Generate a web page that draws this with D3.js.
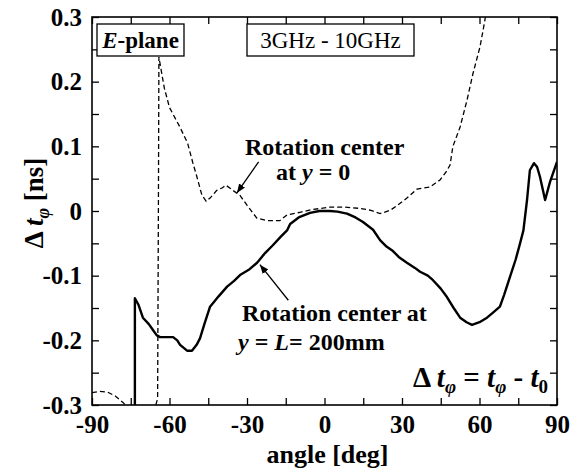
<!DOCTYPE html>
<html>
<head>
<meta charset="utf-8">
<script src="https://cdn.jsdelivr.net/npm/d3@7"></script>
</head>
<body style="margin:0">
<svg id="chart" width="581" height="475" font-family="Liberation Serif"></svg>
<script>
// Data: [angle deg, delta t ns]
const rotCenterZero = [
  [-90, -0.281], [-87, -0.279], [-84, -0.280], [-81, -0.286], [-78, -0.296], [-76, -0.305],
  [-71, -0.33], [-66, -0.31], [-64.6, -0.29], [-64.3, 0.0], [-64.1, 0.238],
  [-62, 0.19], [-60, 0.16], [-56, 0.13], [-53, 0.105], [-51, 0.075], [-49.4, 0.053],
  [-47.5, 0.025], [-45.8, 0.015], [-44.3, 0.02], [-41.7, 0.032], [-39.5, 0.036], [-38.2, 0.04],
  [-35.5, 0.032], [-32.7, 0.024], [-30, 0.009], [-26.2, -0.011], [-22.3, -0.015], [-17.3, -0.015],
  [-14.5, -0.006], [-9.5, -0.002], [-5, 0.002], [2, 0.006], [8, 0.006], [13.7, 0.004],
  [18, 0.001], [21.5, -0.004], [25.4, 0.001], [28, 0.008], [31.9, 0.02], [35.8, 0.034],
  [40.8, 0.037], [44.7, 0.048], [47, 0.06], [48.6, 0.071], [49.7, 0.1], [52.5, 0.13],
  [55.2, 0.172], [57.5, 0.213], [60.2, 0.254], [62.1, 0.295], [62.8, 0.32]
];

const rotCenterL = [
  [-73.4, -0.33], [-73.4, -0.135], [-72, -0.145], [-70.3, -0.165], [-68, -0.175], [-66.4, -0.184],
  [-65, -0.192], [-63.7, -0.195], [-61, -0.195], [-58.6, -0.195], [-57, -0.2], [-55.9, -0.207],
  [-53.2, -0.216], [-51.3, -0.216], [-49.5, -0.207], [-48.2, -0.197], [-46.5, -0.175], [-44.3, -0.148],
  [-41, -0.132], [-37.7, -0.117], [-35, -0.108], [-32.7, -0.099], [-29, -0.09], [-26.1, -0.08],
  [-23, -0.065], [-20, -0.053], [-17, -0.04], [-14.5, -0.03], [-13.3, -0.02], [-10, -0.01],
  [-5.6, -0.003], [-2, 0], [2.1, 0], [5, -0.001], [8.7, -0.004], [12, -0.01], [14.9, -0.017],
  [18.8, -0.029], [21.5, -0.045], [24, -0.055], [26.5, -0.062], [29, -0.072], [31.9, -0.08],
  [35, -0.088], [37, -0.094], [40, -0.1], [42, -0.107], [45, -0.12], [47.4, -0.133], [50, -0.15],
  [52.5, -0.165], [55, -0.172], [57.1, -0.176], [60, -0.172], [62.9, -0.165], [65, -0.158],
  [67.9, -0.148], [69.5, -0.13], [71.8, -0.102], [74, -0.075], [75.7, -0.05], [77, -0.03],
  [78.4, 0.017], [79.5, 0.063], [81.1, 0.074], [82.3, 0.068], [83.4, 0.053], [85.4, 0.017],
  [87.3, 0.045], [90, 0.076]
];

const xTicks = [-90, -60, -30, 0, 30, 60, 90];
const xMinor = [-75, -45, -15, 15, 45, 75];
const yTicks = [-0.3, -0.2, -0.1, 0, 0.1, 0.2, 0.3];
const yMinor = [-0.25, -0.15, -0.05, 0.05, 0.15, 0.25];

const margin = { top: 17, right: 24, bottom: 70, left: 92 };
const width = 581;
const height = 475;

const svg = d3.select("#chart");

const x = d3.scaleLinear().domain([-90, 90]).range([margin.left, width - margin.right]);
const y = d3.scaleLinear().domain([-0.3, 0.3]).range([height - margin.bottom, margin.top]);

svg.append("defs").append("clipPath").attr("id", "plotClip")
  .append("rect")
  .attr("x", x(-90)).attr("y", y(0.3))
  .attr("width", x(90) - x(-90)).attr("height", y(-0.3) - y(0.3));

// Axes, ticks pointing inward; plain hyphen for negatives like the original
const xFmt = (d) => String(d);
const yFmt = (d) => (d === 0 ? "0" : d.toFixed(1));
const tick = 7;

function bare(g) {
  g.select(".domain").remove();
  g.attr("font-family", null).attr("font-size", null);
}

svg.append("g").attr("transform", `translate(0,${y(-0.3)})`)
  .call(d3.axisBottom(x).tickValues(xTicks).tickSizeInner(-tick).tickSizeOuter(0).tickPadding(tick + 3).tickFormat(xFmt))
  .call(bare);
svg.append("g").attr("transform", `translate(0,${y(-0.3)})`)
  .call(d3.axisBottom(x).tickValues(xMinor).tickSizeInner(-tick).tickSizeOuter(0).tickFormat(""))
  .call(bare);
svg.append("g").attr("transform", `translate(0,${y(0.3)})`)
  .call(d3.axisTop(x).tickValues(xTicks.concat(xMinor)).tickSizeInner(-tick).tickSizeOuter(0).tickFormat(""))
  .call(bare);

svg.append("g").attr("transform", `translate(${x(-90)},0)`)
  .call(d3.axisLeft(y).tickValues(yTicks).tickSizeInner(-tick).tickSizeOuter(0).tickPadding(tick + 3).tickFormat(yFmt))
  .call(bare);
svg.append("g").attr("transform", `translate(${x(-90)},0)`)
  .call(d3.axisLeft(y).tickValues(yMinor).tickSizeInner(-tick).tickSizeOuter(0).tickFormat(""))
  .call(bare);
svg.append("g").attr("transform", `translate(${x(90)},0)`)
  .call(d3.axisRight(y).tickValues(yTicks.concat(yMinor)).tickSizeInner(-tick).tickSizeOuter(0).tickFormat(""))
  .call(bare);

svg.selectAll(".tick line").attr("stroke", "#000").attr("stroke-width", 1.3);
svg.selectAll(".tick text").attr("fill", "#000").attr("font-size", 25).attr("font-weight", "bold");

// Frame
svg.append("rect")
  .attr("x", x(-90)).attr("y", y(0.3))
  .attr("width", x(90) - x(-90)).attr("height", y(-0.3) - y(0.3))
  .attr("fill", "none").attr("stroke", "#000").attr("stroke-width", 1.6);

// Curves
const line = d3.line().x((d) => x(d[0])).y((d) => y(d[1]));
const plot = svg.append("g").attr("clip-path", "url(#plotClip)");

plot.append("path").datum(rotCenterZero)
  .attr("d", line).attr("fill", "none").attr("stroke", "#000")
  .attr("stroke-width", 1.3).attr("stroke-dasharray", "5,3");

plot.append("path").datum(rotCenterL)
  .attr("d", line).attr("fill", "none").attr("stroke", "#000")
  .attr("stroke-width", 2.4).attr("stroke-linejoin", "round");

// Arrows
svg.append("defs").append("marker")
  .attr("id", "arrowHead").attr("viewBox", "0 0 10 10")
  .attr("refX", 10).attr("refY", 5)
  .attr("markerWidth", 9).attr("markerHeight", 9)
  .attr("markerUnits", "userSpaceOnUse")
  .attr("orient", "auto")
  .append("path").attr("d", "M0,1 L10,5 L0,9 Z").attr("fill", "#000");

function arrow(from, to) {
  svg.append("line")
    .attr("x1", x(from[0])).attr("y1", y(from[1]))
    .attr("x2", x(to[0])).attr("y2", y(to[1]))
    .attr("stroke", "#000").attr("stroke-width", 1.3)
    .attr("marker-end", "url(#arrowHead)");
}
arrow([-25.5, 0.076], [-33.9, 0.028]);
arrow([-14, -0.138], [-25, -0.083]);

// Boxed labels
function boxLabel(x0, y0, w, h) {
  svg.append("rect").attr("x", x0).attr("y", y0).attr("width", w).attr("height", h)
    .attr("fill", "#fff").attr("stroke", "#000").attr("stroke-width", 1.3);
}
boxLabel(97, 24, 87, 32);
const ep = svg.append("text").attr("x", 140.5).attr("y", 48).attr("text-anchor", "middle")
  .attr("font-size", 23).attr("font-weight", "bold");
ep.append("tspan").attr("font-style", "italic").text("E");
ep.append("tspan").text("-plane");

boxLabel(247, 24, 167, 32);
svg.append("text").attr("x", 330.5).attr("y", 48).attr("text-anchor", "middle")
  .attr("font-size", 23).text("3GHz - 10GHz");

// Curve annotations
const ann = svg.append("g").attr("font-size", 24).attr("font-weight", "bold");
ann.append("text").attr("x", 245).attr("y", 155).text("Rotation center");
const t2 = ann.append("text").attr("x", 276).attr("y", 180);
t2.append("tspan").text("at ");
t2.append("tspan").attr("font-style", "italic").text("y");
t2.append("tspan").text(" = 0");

ann.append("text").attr("x", 242).attr("y", 321).text("Rotation center at");
const t4 = ann.append("text").attr("x", 238).attr("y", 350);
t4.append("tspan").attr("font-style", "italic").text("y");
t4.append("tspan").text(" = ");
t4.append("tspan").attr("font-style", "italic").text("L");
t4.append("tspan").text("= 200mm");

// Formula
const f = svg.append("text").attr("x", 548).attr("y", 387).attr("text-anchor", "end")
  .attr("font-size", 29).attr("font-weight", "bold").attr("font-style", "italic");
f.append("tspan").attr("font-style", "normal").text("Δ ");
f.append("tspan").text("t");
f.append("tspan").attr("font-size", 19).attr("dy", 6).text("φ");
f.append("tspan").attr("dy", -6).attr("font-style", "normal").text(" = ");
f.append("tspan").text("t");
f.append("tspan").attr("font-size", 19).attr("dy", 6).text("φ");
f.append("tspan").attr("dy", -6).attr("font-style", "normal").text(" - ");
f.append("tspan").text("t");
f.append("tspan").attr("font-size", 19).attr("dy", 6).attr("font-style", "normal").text("0");

// Axis titles
svg.append("text").attr("x", x(0) + 3).attr("y", 463).attr("text-anchor", "middle")
  .attr("font-size", 26).attr("font-weight", "bold").text("angle [deg]");

const yl = svg.append("text")
  .attr("transform", `translate(43,${y(0) - 8}) rotate(-90)`)
  .attr("text-anchor", "middle").attr("font-size", 27).attr("font-weight", "bold");
yl.append("tspan").text("Δ ");
yl.append("tspan").attr("font-style", "italic").text("t");
yl.append("tspan").attr("font-size", 18).attr("dy", 6).attr("font-style", "italic").text("φ");
yl.append("tspan").attr("dy", -6).text(" [ns]");

// Times-like face on every text element
svg.selectAll("text, tspan").attr("font-family", "Liberation Serif");
</script>
</body>
</html>
